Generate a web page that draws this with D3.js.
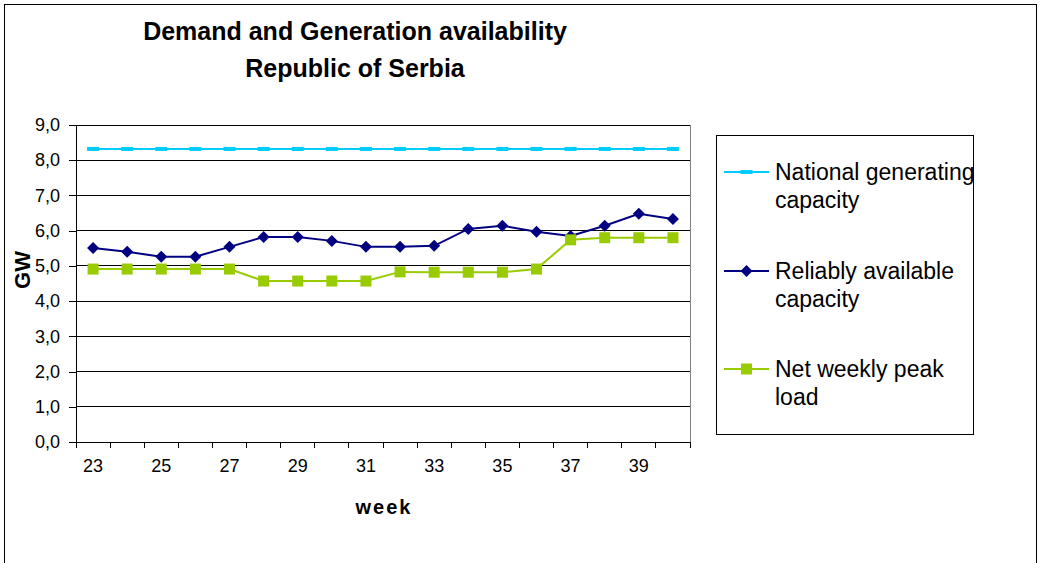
<!DOCTYPE html>
<html><head><meta charset="utf-8">
<script src="https://cdn.jsdelivr.net/npm/d3@7"></script>
<style>
body{margin:0;background:#fff;}
svg{display:block;font-family:"Liberation Sans",Arial,sans-serif;}
</style></head>
<body>
<svg id="c" width="1042" height="563"></svg>
<script>
const weeks = [23,24,25,26,27,28,29,30,31,32,33,34,35,36,37,38,39,40];
const nationalCapacity = [8.32,8.32,8.32,8.32,8.32,8.32,8.32,8.32,8.32,8.32,8.32,8.32,8.32,8.32,8.32,8.32,8.32,8.32];
const reliableCapacity = [5.51,5.40,5.26,5.26,5.54,5.82,5.82,5.71,5.54,5.54,5.57,6.05,6.14,5.97,5.85,6.14,6.48,6.33];
const netPeakLoad = [4.91,4.91,4.91,4.91,4.91,4.57,4.57,4.57,4.57,4.83,4.82,4.82,4.82,4.91,5.74,5.80,5.80,5.80];
const yTicks = [0,1,2,3,4,5,6,7,8,9];
const xTickLabels = [23,25,27,29,31,33,35,37,39];
const seriesNames = ["National generating capacity","Reliably available capacity","Net weekly peak load"];
const legendLines = [["National generating","capacity"],["Reliably available","capacity"],["Net weekly peak","load"]];

const svg = d3.select("#c");
svg.append("rect").attr("x",4.5).attr("y",4.5).attr("width",1032).attr("height",570)
  .attr("fill","none").attr("stroke","#000").attr("stroke-width",1);

const L=76, R=690, T=125, B=442;
const x = d3.scaleBand().domain(weeks).range([L,R]);
const y = d3.scaleLinear().domain([0,9]).range([B,T]);

svg.append("g").selectAll("line").data(yTicks.filter(d=>d>0)).join("line")
  .attr("x1",L).attr("x2",R).attr("y1",d=>y(d)).attr("y2",d=>y(d))
  .attr("stroke","#000").attr("stroke-width",1).attr("shape-rendering","crispEdges");
svg.append("line").attr("x1",R).attr("x2",R).attr("y1",T).attr("y2",B)
  .attr("stroke","#808080").attr("shape-rendering","crispEdges");

const yAxis = d3.axisLeft(y).tickValues(yTicks).tickSize(7).tickPadding(9)
  .tickFormat(d=>d3.format(".1f")(d).replace(".",","));
const gy = svg.append("g").attr("transform",`translate(${L},0)`).call(yAxis);
gy.select(".domain").attr("stroke","#000").attr("shape-rendering","crispEdges");
gy.selectAll(".tick line").attr("stroke","#000").attr("shape-rendering","crispEdges");
gy.selectAll("text").attr("font-size",18).attr("fill","#000").attr("font-family","Liberation Sans, Arial, sans-serif");

const xAxis = d3.axisBottom(x).tickValues(xTickLabels).tickSize(0).tickPadding(17);
const gx = svg.append("g").attr("transform",`translate(0,${B})`).call(xAxis);
gx.select(".domain").attr("stroke","#000").attr("shape-rendering","crispEdges");
gx.selectAll("text").attr("font-size",18).attr("fill","#000").attr("font-family","Liberation Sans, Arial, sans-serif");
const bounds = weeks.map(w=>x(w)).concat([x(weeks[weeks.length-1])+x.bandwidth()]);
svg.append("g").selectAll("line").data(bounds).join("line")
  .attr("x1",d=>d).attr("x2",d=>d).attr("y1",B).attr("y2",B+6)
  .attr("stroke","#000").attr("shape-rendering","crispEdges");

const cx = d=>x(d)+x.bandwidth()/2;
const line = d3.line().x(d=>cx(d[0])).y(d=>y(d[1]));

const colors = ["#00CCFF","#000080","#99CC00"];
const datasets = [nationalCapacity, reliableCapacity, netPeakLoad];

function marker(g, type, px, py, color){
  if(type===0){
    g.append("rect").attr("x",px-6).attr("y",py-2).attr("width",12).attr("height",4).attr("fill",color);
  } else if(type===1){
    const s=6;
    g.append("path").attr("d",`M${px},${py-s}L${px+s},${py}L${px},${py+s}L${px-s},${py}Z`).attr("fill",color);
  } else {
    g.append("rect").attr("x",px-5.5).attr("y",py-5.5).attr("width",11).attr("height",11).attr("fill",color);
  }
}

datasets.forEach((vals,i)=>{
  const pts = weeks.map((w,j)=>[w,vals[j]]);
  svg.append("path").datum(pts).attr("d",line).attr("fill","none")
    .attr("stroke",colors[i]).attr("stroke-width",2);
  const g = svg.append("g");
  pts.forEach(p=>marker(g,i,cx(p[0]),y(p[1]),colors[i]));
});

svg.append("text").attr("x",355).attr("y",40).attr("text-anchor","middle")
  .attr("font-size",25).attr("font-weight","bold").text("Demand and Generation availability");
svg.append("text").attr("x",355).attr("y",77).attr("text-anchor","middle")
  .attr("font-size",25).attr("font-weight","bold").text("Republic of Serbia");
svg.append("text").attr("x",384).attr("y",514).attr("text-anchor","middle")
  .attr("font-size",20).attr("font-weight","bold").attr("letter-spacing",2).text("week");
svg.append("text").attr("transform","translate(30,270) rotate(-90)").attr("text-anchor","middle")
  .attr("font-size",22).attr("font-weight","bold").text("GW");

svg.append("rect").attr("x",716.5).attr("y",135.5).attr("width",257).attr("height",299)
  .attr("fill","none").attr("stroke","#000").attr("shape-rendering","crispEdges");
const legY = [172,271,369];
legendLines.forEach((lines,i)=>{
  const ly = legY[i];
  svg.append("line").attr("x1",724).attr("x2",769).attr("y1",ly).attr("y2",ly)
    .attr("stroke",colors[i]).attr("stroke-width",2);
  marker(svg,i,746.5,ly,colors[i]);
  lines.forEach((t,k)=>{
    svg.append("text").attr("x",775).attr("y",ly+8+k*28).attr("font-size",23).attr("fill","#000").text(t);
  });
});
</script>
</body></html>
